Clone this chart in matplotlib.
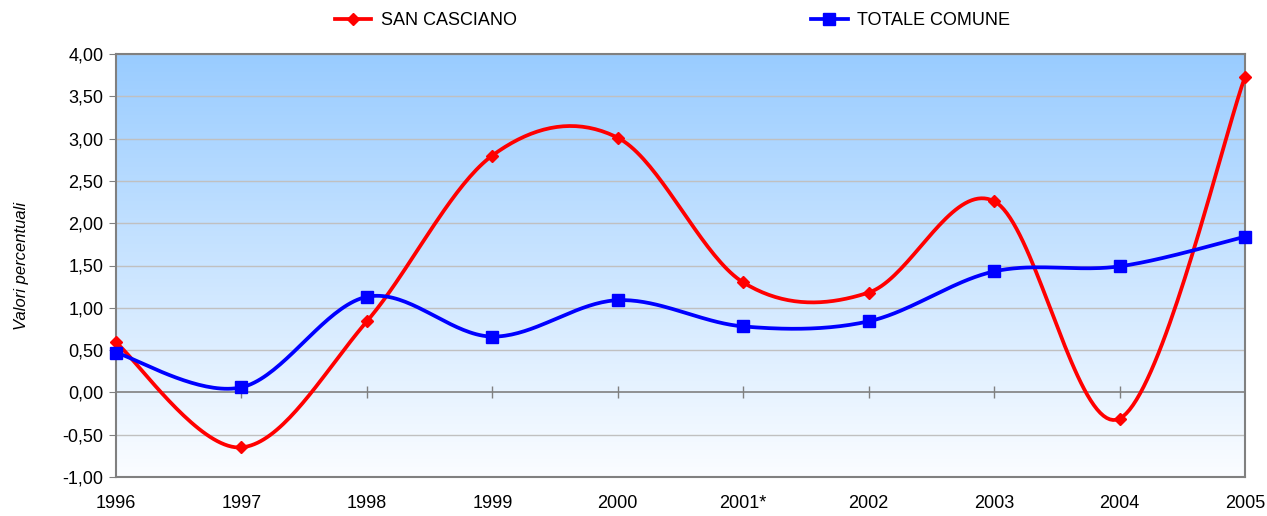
import numpy as np
import matplotlib.pyplot as plt
from matplotlib.colors import LinearSegmentedColormap

plt.rcParams['font.family'] = ['Liberation Sans', 'DejaVu Sans']
plt.rcParams['font.size'] = 13

anni = ['1996', '1997', '1998', '1999', '2000', '2001*', '2002', '2003', '2004', '2005']
san_casciano = [0.59, -0.65, 0.84, 2.80, 3.01, 1.30, 1.18, 2.26, -0.31, 3.73]
totale_comune = [0.47, 0.06, 1.13, 0.66, 1.09, 0.78, 0.84, 1.43, 1.49, 1.84]
y_ticks = [-1.0, -0.5, 0.0, 0.5, 1.0, 1.5, 2.0, 2.5, 3.0, 3.5, 4.0]


def smooth(x, y, n=40):
    # curva tipo Excel (Catmull-Rom con Bezier)
    x = np.asarray(x, float)
    y = np.asarray(y, float)
    px = np.concatenate([[x[0]], x, [x[-1]]])
    py = np.concatenate([[y[0]], y, [y[-1]]])
    xs, ys = [], []
    t = np.linspace(0, 1, n)
    for i in range(1, len(px) - 2):
        p0 = np.array([px[i], py[i]])
        p3 = np.array([px[i + 1], py[i + 1]])
        p1 = p0 + (np.array([px[i + 1], py[i + 1]]) - np.array([px[i - 1], py[i - 1]])) / 6
        p2 = p3 - (np.array([px[i + 2], py[i + 2]]) - np.array([px[i], py[i]])) / 6
        b = ((1 - t) ** 3)[:, None] * p0 + (3 * (1 - t) ** 2 * t)[:, None] * p1 \
            + (3 * (1 - t) * t ** 2)[:, None] * p2 + (t ** 3)[:, None] * p3
        xs.extend(b[:, 0])
        ys.extend(b[:, 1])
    return np.array(xs), np.array(ys)


fig = plt.figure(figsize=(12.67, 5.16), dpi=100)
ax = fig.add_axes([116 / 1267, 1 - 477 / 516, (1245 - 116) / 1267, (477 - 54) / 516])

x = np.arange(len(anni))
ax.set_xlim(0, len(anni) - 1)
ax.set_ylim(-1, 4)

# sfondo sfumato
cmap = LinearSegmentedColormap.from_list('bg', ['#fbfdff', '#99ccff'])
grad = np.linspace(0, 1, 256).reshape(-1, 1)
ax.imshow(grad, aspect='auto', cmap=cmap, origin='lower',
          extent=[0, len(anni) - 1, -1, 4], zorder=0)

for yv in y_ticks:
    if yv != 0:
        ax.axhline(yv, color='#c0c0c0', lw=1, zorder=1)
ax.axhline(0, color='#808080', lw=1.2, zorder=1)
ax.plot(x[1:-1], np.zeros(len(x) - 2), ls='none', marker='|', ms=9,
        mew=1, color='#808080', zorder=1)

sx, sy = smooth(x, san_casciano)
ax.plot(sx, sy, color='#ff0000', lw=2.7, zorder=3, clip_on=False)
ax.plot(x, san_casciano, ls='none', marker='D', ms=6.5, color='#ff0000', zorder=4,
        clip_on=False)
tx, ty = smooth(x, totale_comune)
ax.plot(tx, ty, color='#0000ff', lw=2.7, zorder=3, clip_on=False)
ax.plot(x, totale_comune, ls='none', marker='s', ms=8, color='#0000ff', zorder=4,
        clip_on=False)

ax.set_yticks(y_ticks)
ax.set_yticklabels([f'{v:.2f}'.replace('.', ',') for v in y_ticks])
ax.set_xticks(x)
ax.set_xticklabels(anni)
ax.tick_params(axis='x', length=0, pad=13)
ax.tick_params(axis='y', length=5, color='#808080', direction='out', pad=4)
for s in ax.spines.values():
    s.set_color('#808080')
    s.set_linewidth(1.5)

ax.set_ylabel('Valori percentuali', fontstyle='italic', fontsize=12, labelpad=24)

h1, = ax.plot([], [], color='#ff0000', lw=2.7, marker='D', ms=6.5, label='SAN CASCIANO')
h2, = ax.plot([], [], color='#0000ff', lw=2.7, marker='s', ms=8, label='TOTALE COMUNE')
fig.legend(handles=[h1, h2], loc='center', bbox_to_anchor=(0.531, 0.96), ncol=2,
           frameon=False, fontsize=13, columnspacing=16.3, handlelength=2.0,
           handletextpad=0.55)

plt.savefig('out.png', dpi=100)
